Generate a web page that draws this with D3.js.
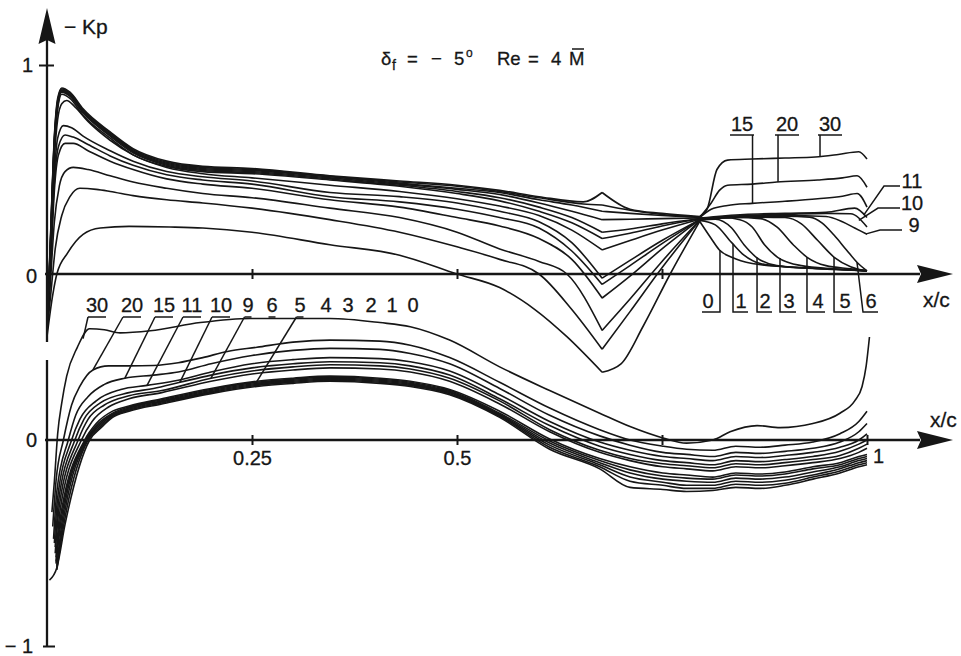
<!DOCTYPE html>
<html><head><meta charset="utf-8">
<script src="https://cdn.jsdelivr.net/npm/d3@7/dist/d3.min.js"></script>
<style>
html,body{margin:0;padding:0;background:#fff;}
svg{display:block;}
text{font-family:"Liberation Sans",Arial,Helvetica,sans-serif;fill:#161616;stroke:#161616;stroke-width:0.3px;}
</style></head><body>
<svg id="chart" width="961" height="656"></svg>
<script>
// ---------------- DATA (x/c , -Kp) ----------------
const angles = [0,1,2,3,4,5,6,9,10,11,15,20,30];

// upper panel (main wing + flap, upper side)
const up30 = [[0,-0.28],[0.004,0.15],[0.009,0.66],[0.013,0.84],[0.018,0.89],[0.028,0.87],[0.044,0.79],[0.077,0.68],[0.105,0.60],[0.146,0.54],[0.19,0.515],[0.25,0.505],[0.345,0.47],[0.43,0.445],[0.5,0.425],[0.552,0.40],[0.6,0.37],[0.654,0.345],[0.677,0.39],[0.711,0.31],[0.75,0.29],[0.796,0.275],[0.805,0.31],[0.817,0.50],[0.83,0.545],[0.86,0.55],[0.9,0.555],[0.937,0.56],[0.965,0.572],[0.99,0.585],[1.0,0.55]];
const up20 = [[0,-0.28],[0.004,0.14],[0.009,0.65],[0.013,0.83],[0.018,0.885],[0.028,0.865],[0.044,0.785],[0.077,0.675],[0.105,0.595],[0.146,0.535],[0.19,0.51],[0.25,0.50],[0.345,0.468],[0.43,0.44],[0.5,0.42],[0.552,0.395],[0.6,0.365],[0.654,0.335],[0.677,0.33],[0.711,0.305],[0.75,0.285],[0.796,0.272],[0.81,0.34],[0.82,0.40],[0.83,0.425],[0.86,0.43],[0.89,0.44],[0.94,0.45],[0.97,0.46],[0.988,0.47],[1.0,0.415]];
const up15 = [[0,-0.28],[0.004,0.13],[0.009,0.64],[0.013,0.82],[0.018,0.88],[0.028,0.86],[0.044,0.78],[0.077,0.67],[0.105,0.59],[0.146,0.53],[0.19,0.505],[0.25,0.495],[0.345,0.465],[0.43,0.435],[0.5,0.41],[0.552,0.39],[0.6,0.355],[0.64,0.33],[0.677,0.30],[0.711,0.29],[0.75,0.28],[0.796,0.27],[0.81,0.31],[0.83,0.328],[0.86,0.338],[0.9,0.348],[0.94,0.36],[0.97,0.372],[0.988,0.385],[1.0,0.32]];
const up11 = [[0,-0.28],[0.004,0.12],[0.009,0.63],[0.013,0.81],[0.018,0.875],[0.028,0.855],[0.044,0.775],[0.077,0.665],[0.105,0.585],[0.146,0.525],[0.19,0.50],[0.25,0.49],[0.345,0.46],[0.43,0.43],[0.5,0.405],[0.552,0.38],[0.6,0.34],[0.64,0.30],[0.677,0.26],[0.711,0.262],[0.75,0.265],[0.796,0.268],[0.85,0.285],[0.9,0.29],[0.95,0.295],[0.985,0.315],[1.0,0.27]];
const up10 = [[0,-0.28],[0.004,0.11],[0.009,0.62],[0.013,0.80],[0.018,0.87],[0.028,0.85],[0.044,0.77],[0.077,0.66],[0.105,0.58],[0.146,0.52],[0.19,0.495],[0.25,0.485],[0.345,0.455],[0.43,0.425],[0.5,0.395],[0.552,0.365],[0.6,0.32],[0.64,0.27],[0.677,0.20],[0.711,0.215],[0.75,0.24],[0.796,0.266],[0.85,0.28],[0.9,0.285],[0.95,0.29],[0.98,0.288],[1.0,0.225]];
const up9  = [[0,-0.28],[0.004,0.10],[0.009,0.60],[0.013,0.79],[0.018,0.86],[0.028,0.84],[0.044,0.76],[0.077,0.65],[0.105,0.57],[0.146,0.515],[0.19,0.49],[0.25,0.48],[0.345,0.45],[0.43,0.42],[0.5,0.385],[0.552,0.35],[0.6,0.30],[0.64,0.245],[0.677,0.17],[0.711,0.195],[0.75,0.23],[0.796,0.264],[0.85,0.277],[0.9,0.28],[0.95,0.275],[0.97,0.25],[0.985,0.22],[1.0,0.19]];
const up6  = [[0,-0.28],[0.004,0.08],[0.009,0.55],[0.013,0.74],[0.018,0.815],[0.024,0.83],[0.034,0.80],[0.05,0.73],[0.077,0.64],[0.105,0.57],[0.146,0.51],[0.19,0.48],[0.25,0.46],[0.345,0.425],[0.43,0.395],[0.5,0.36],[0.552,0.325],[0.6,0.28],[0.64,0.21],[0.677,0.115],[0.711,0.16],[0.75,0.21],[0.796,0.262],[0.85,0.274],[0.9,0.276],[0.93,0.272],[0.945,0.245],[0.96,0.185],[0.975,0.115],[0.988,0.055],[1.0,0.015]];
const up5  = [[0,-0.28],[0.004,0.05],[0.009,0.48],[0.013,0.65],[0.02,0.71],[0.03,0.70],[0.044,0.66],[0.077,0.59],[0.105,0.54],[0.146,0.49],[0.19,0.465],[0.25,0.445],[0.345,0.39],[0.43,0.37],[0.5,0.34],[0.552,0.30],[0.6,0.25],[0.64,0.15],[0.677,-0.02],[0.711,0.065],[0.75,0.16],[0.796,0.26],[0.85,0.272],[0.9,0.27],[0.92,0.24],[0.94,0.16],[0.96,0.08],[0.98,0.035],[1.0,0.015]];
const up4  = [[0,-0.28],[0.004,0.03],[0.009,0.44],[0.014,0.61],[0.022,0.665],[0.032,0.655],[0.05,0.62],[0.077,0.565],[0.105,0.52],[0.146,0.475],[0.19,0.45],[0.25,0.43],[0.345,0.37],[0.43,0.345],[0.5,0.31],[0.552,0.27],[0.6,0.22],[0.64,0.11],[0.677,-0.05],[0.711,0.04],[0.75,0.145],[0.796,0.26],[0.84,0.27],[0.87,0.265],[0.89,0.225],[0.91,0.14],[0.927,0.08],[0.95,0.04],[0.98,0.025],[1.0,0.015]];
const up3  = [[0,-0.28],[0.004,0.0],[0.009,0.40],[0.014,0.57],[0.022,0.625],[0.032,0.625],[0.05,0.59],[0.077,0.54],[0.105,0.50],[0.146,0.455],[0.19,0.43],[0.25,0.41],[0.345,0.355],[0.43,0.32],[0.5,0.27],[0.552,0.23],[0.6,0.17],[0.64,0.07],[0.677,-0.115],[0.711,-0.01],[0.75,0.12],[0.796,0.26],[0.825,0.27],[0.845,0.26],[0.86,0.225],[0.875,0.14],[0.891,0.08],[0.92,0.04],[0.96,0.025],[1.0,0.015]];
const up2  = [[0,-0.28],[0.004,-0.05],[0.009,0.25],[0.015,0.42],[0.022,0.49],[0.032,0.51],[0.05,0.50],[0.077,0.47],[0.105,0.44],[0.146,0.41],[0.19,0.385],[0.25,0.365],[0.345,0.315],[0.43,0.27],[0.5,0.2],[0.552,0.12],[0.6,0.06],[0.634,0.0],[0.677,-0.27],[0.711,-0.12],[0.75,0.06],[0.796,0.258],[0.815,0.262],[0.835,0.22],[0.85,0.14],[0.865,0.08],[0.89,0.04],[0.94,0.025],[1.0,0.015]];
const up1  = [[0,-0.28],[0.005,-0.08],[0.01,0.12],[0.018,0.28],[0.028,0.37],[0.04,0.41],[0.06,0.405],[0.077,0.395],[0.105,0.375],[0.146,0.355],[0.19,0.34],[0.25,0.315],[0.345,0.26],[0.43,0.20],[0.5,0.13],[0.552,0.07],[0.6,0.0],[0.64,-0.17],[0.677,-0.36],[0.711,-0.18],[0.75,0.03],[0.796,0.256],[0.815,0.235],[0.835,0.15],[0.85,0.09],[0.87,0.05],[0.9,0.035],[0.95,0.025],[1.0,0.015]];
const up0  = [[0,-0.30],[0.007,-0.1],[0.012,0.0],[0.025,0.10],[0.044,0.19],[0.065,0.22],[0.1,0.228],[0.15,0.225],[0.19,0.22],[0.25,0.20],[0.345,0.14],[0.43,0.09],[0.5,0.0],[0.552,-0.065],[0.595,-0.17],[0.634,-0.30],[0.677,-0.47],[0.70,-0.43],[0.727,-0.25],[0.76,0.0],[0.796,0.252],[0.81,0.17],[0.82,0.115],[0.835,0.08],[0.86,0.05],[0.9,0.035],[0.95,0.025],[1.0,0.015]];

// lower panel (lower side)
const lo30 = [[0.006,-0.35],[0.009,-0.2],[0.013,0.03],[0.018,0.18],[0.024,0.31],[0.037,0.45],[0.052,0.54],[0.07,0.535],[0.089,0.52],[0.126,0.53],[0.187,0.57],[0.248,0.59],[0.345,0.59],[0.406,0.57],[0.443,0.55],[0.491,0.485],[0.552,0.355],[0.613,0.24],[0.674,0.13],[0.711,0.065],[0.751,0.01],[0.78,-0.015],[0.812,0.0],[0.833,0.04],[0.866,0.07],[0.894,0.06],[0.934,0.08],[0.967,0.13],[0.985,0.19],[0.994,0.26],[0.999,0.36],[1.003,0.50]];
const lo20 = [[0.007,-0.42],[0.011,-0.2],[0.02,0.0],[0.03,0.17],[0.04,0.26],[0.056,0.34],[0.075,0.36],[0.1,0.36],[0.13,0.362],[0.16,0.375],[0.19,0.40],[0.22,0.43],[0.256,0.45],[0.3,0.475],[0.345,0.485],[0.406,0.48],[0.443,0.46],[0.491,0.40],[0.552,0.28],[0.613,0.155],[0.674,0.05],[0.711,0.0],[0.751,-0.03],[0.78,-0.045],[0.812,-0.05],[0.84,-0.03],[0.87,-0.035],[0.9,-0.025],[0.934,-0.01],[0.967,0.03],[0.99,0.09],[1.0,0.14]];
const lo15 = [[0.008,-0.48],[0.012,-0.25],[0.026,0.0],[0.035,0.12],[0.05,0.21],[0.07,0.27],[0.095,0.30],[0.13,0.315],[0.16,0.33],[0.2,0.37],[0.25,0.41],[0.3,0.435],[0.345,0.445],[0.406,0.44],[0.443,0.42],[0.491,0.37],[0.552,0.25],[0.613,0.12],[0.674,0.02],[0.711,-0.025],[0.751,-0.06],[0.78,-0.07],[0.812,-0.08],[0.84,-0.06],[0.87,-0.065],[0.9,-0.055],[0.934,-0.04],[0.967,-0.01],[0.99,0.04],[1.0,0.08]];
const lo11 = [[0.009,-0.5],[0.013,-0.28],[0.03,0.0],[0.04,0.1],[0.06,0.19],[0.09,0.245],[0.122,0.265],[0.16,0.29],[0.2,0.33],[0.25,0.37],[0.3,0.39],[0.345,0.40],[0.406,0.395],[0.443,0.38],[0.491,0.335],[0.552,0.22],[0.613,0.09],[0.674,-0.01],[0.711,-0.05],[0.751,-0.08],[0.78,-0.09],[0.812,-0.10],[0.84,-0.08],[0.87,-0.085],[0.9,-0.075],[0.934,-0.06],[0.967,-0.035],[0.99,0.0],[1.0,0.03]];
const lo10 = [[0.01,-0.52],[0.014,-0.3],[0.034,0.0],[0.045,0.1],[0.065,0.18],[0.1,0.23],[0.13,0.25],[0.162,0.28],[0.2,0.315],[0.25,0.35],[0.3,0.37],[0.345,0.38],[0.406,0.375],[0.443,0.36],[0.491,0.315],[0.552,0.20],[0.613,0.07],[0.674,-0.03],[0.711,-0.07],[0.751,-0.1],[0.78,-0.11],[0.812,-0.12],[0.84,-0.10],[0.87,-0.105],[0.9,-0.095],[0.934,-0.08],[0.967,-0.055],[0.99,-0.02],[1.0,0.0]];
const lo9  = [[0.01,-0.55],[0.015,-0.32],[0.038,0.0],[0.05,0.1],[0.07,0.17],[0.1,0.215],[0.14,0.24],[0.2,0.30],[0.25,0.335],[0.3,0.355],[0.345,0.365],[0.406,0.36],[0.443,0.345],[0.491,0.30],[0.552,0.19],[0.613,0.05],[0.674,-0.05],[0.711,-0.09],[0.751,-0.115],[0.78,-0.125],[0.812,-0.135],[0.84,-0.115],[0.87,-0.12],[0.9,-0.11],[0.934,-0.095],[0.967,-0.075],[0.99,-0.04],[1.0,-0.02]];
const lo6  = [[0.011,-0.57],[0.016,-0.34],[0.042,0.0],[0.055,0.09],[0.075,0.16],[0.1,0.2],[0.14,0.23],[0.2,0.285],[0.25,0.32],[0.3,0.34],[0.345,0.35],[0.406,0.345],[0.443,0.33],[0.491,0.285],[0.552,0.175],[0.613,0.04],[0.674,-0.06],[0.711,-0.10],[0.751,-0.13],[0.78,-0.14],[0.812,-0.15],[0.84,-0.13],[0.87,-0.135],[0.9,-0.125],[0.934,-0.11],[0.967,-0.09],[0.99,-0.06],[1.0,-0.04]];
const lo5  = [[0.011,-0.59],[0.017,-0.36],[0.046,0.0],[0.06,0.08],[0.08,0.14],[0.1,0.165],[0.14,0.2],[0.2,0.25],[0.256,0.285],[0.3,0.3],[0.345,0.31],[0.406,0.30],[0.443,0.285],[0.491,0.245],[0.552,0.14],[0.613,0.005],[0.674,-0.09],[0.711,-0.13],[0.751,-0.16],[0.78,-0.17],[0.812,-0.18],[0.84,-0.16],[0.87,-0.165],[0.9,-0.155],[0.934,-0.13],[0.967,-0.11],[0.99,-0.08],[1.0,-0.07]];
const lo4  = [[0.011,-0.6],[0.018,-0.37],[0.047,0.0],[0.06,0.07],[0.08,0.13],[0.1,0.16],[0.14,0.195],[0.2,0.245],[0.256,0.28],[0.3,0.295],[0.345,0.305],[0.406,0.295],[0.443,0.28],[0.491,0.24],[0.552,0.13],[0.613,-0.005],[0.674,-0.10],[0.711,-0.145],[0.751,-0.175],[0.78,-0.185],[0.812,-0.19],[0.84,-0.17],[0.87,-0.175],[0.9,-0.165],[0.934,-0.14],[0.967,-0.12],[0.99,-0.09],[1.0,-0.08]];
const lo3  = [[0.012,-0.61],[0.019,-0.38],[0.048,0.0],[0.062,0.07],[0.08,0.125],[0.1,0.155],[0.14,0.19],[0.2,0.24],[0.256,0.275],[0.3,0.29],[0.345,0.30],[0.406,0.29],[0.443,0.275],[0.491,0.235],[0.552,0.125],[0.613,-0.015],[0.674,-0.11],[0.711,-0.16],[0.751,-0.19],[0.78,-0.2],[0.812,-0.205],[0.84,-0.185],[0.87,-0.19],[0.9,-0.18],[0.934,-0.155],[0.967,-0.13],[0.99,-0.10],[1.0,-0.09]];
const lo2  = [[0.012,-0.62],[0.02,-0.39],[0.049,0.0],[0.063,0.065],[0.08,0.12],[0.1,0.15],[0.14,0.185],[0.2,0.235],[0.256,0.27],[0.3,0.285],[0.345,0.295],[0.406,0.285],[0.443,0.27],[0.491,0.23],[0.552,0.12],[0.613,-0.025],[0.674,-0.12],[0.711,-0.18],[0.751,-0.205],[0.78,-0.22],[0.812,-0.22],[0.84,-0.2],[0.87,-0.205],[0.9,-0.195],[0.934,-0.17],[0.967,-0.14],[0.99,-0.11],[1.0,-0.1]];
const lo1  = [[0.012,-0.63],[0.021,-0.40],[0.05,0.0],[0.064,0.06],[0.08,0.115],[0.1,0.145],[0.14,0.18],[0.2,0.23],[0.256,0.265],[0.3,0.28],[0.345,0.29],[0.406,0.28],[0.443,0.265],[0.491,0.225],[0.552,0.115],[0.613,-0.035],[0.674,-0.13],[0.711,-0.2],[0.751,-0.22],[0.78,-0.235],[0.812,-0.235],[0.84,-0.215],[0.87,-0.22],[0.9,-0.21],[0.934,-0.18],[0.967,-0.15],[0.99,-0.12],[1.0,-0.11]];
const lo0  = [[0.003,-0.68],[0.012,-0.62],[0.022,-0.41],[0.052,0.0],[0.066,0.06],[0.08,0.11],[0.1,0.14],[0.14,0.175],[0.2,0.225],[0.256,0.26],[0.3,0.275],[0.345,0.285],[0.406,0.275],[0.443,0.26],[0.491,0.22],[0.552,0.11],[0.613,-0.045],[0.674,-0.14],[0.711,-0.23],[0.751,-0.24],[0.78,-0.25],[0.812,-0.245],[0.84,-0.23],[0.87,-0.235],[0.9,-0.22],[0.934,-0.19],[0.967,-0.16],[0.99,-0.13],[1.0,-0.12]];

// axis ticks
const xTicksUpper = [0.25, 0.5, 0.75];
const xTicksLower = [0.25, 0.5, 0.75, 1];
const xTickLabels = {0.25:"0.25", 0.5:"0.5", 0.75:"", 1:"1"};
const yTicksUpper = [0, 1];
const yTicksLower = [0, -1];
const yTickLabels = {1:"1", 0:"0", "-1":"\u2212 1"};
const upperBreaks = [0.677, 0.796];   // sharp kinks (V trough, flap hinge)

// tables built from the arrays above
const upper = {0:up0,1:up1,2:up2,3:up3,4:up4,5:up5,6:up6,9:up9,10:up10,11:up11,15:up15,20:up20,30:up30};
const lower = {0:lo0,1:lo1,2:lo2,3:lo3,4:lo4,5:lo5,6:lo6,9:lo9,10:lo10,11:lo11,15:lo15,20:lo20,30:lo30};

// ---------------- DRAWING ----------------
const ink = "#161616";
const svg = d3.select("#chart");
const x  = d3.scaleLinear().domain([0,1]).range([47,867]);
const yU = d3.scaleLinear().domain([0,1]).range([274,65]);
const yL = d3.scaleLinear().domain([-1,0]).range([646,440]);

function valueAt(pts, xv){
  for(let i=1;i<pts.length;i++){
    if(pts[i][0]>=xv){const a=pts[i-1],b=pts[i];const t=(xv-a[0])/(b[0]-a[0]);return a[1]+t*(b[1]-a[1]);}
  }
  return pts[pts.length-1][1];
}
function splitPath(pts, yS, breaks){
  const gen = d3.line().x(d=>x(d[0])).y(d=>yS(d[1])).curve(d3.curveMonotoneX);
  const segs=[]; let cur=[];
  pts.forEach(p=>{cur.push(p); if(breaks.includes(p[0]) && cur.length>1){segs.push(cur); cur=[p];}});
  if(cur.length>1) segs.push(cur);
  return segs.map(s=>gen(s)).join("");
}

// curves
const gCurves = svg.append("g").attr("fill","none").attr("stroke",ink).attr("stroke-width",1.6).attr("stroke-linejoin","round");
angles.forEach(a=>{
  gCurves.append("path").attr("d", splitPath(upper[a], yU, upperBreaks));
  gCurves.append("path").attr("d", splitPath(lower[a], yL, []));
});

// axes
const gAx = svg.append("g").attr("stroke",ink).attr("stroke-width",2.3).attr("fill","none");
gAx.append("line").attr("x1",x(0)).attr("x2",x(0)).attr("y1",40).attr("y2",342);
gAx.append("line").attr("x1",x(0)).attr("x2",x(0)).attr("y1",360).attr("y2",yL(-1));
gAx.append("line").attr("x1",x(0)-2).attr("x2",920).attr("y1",yU(0)).attr("y2",yU(0));
gAx.append("line").attr("x1",x(0)-2).attr("x2",920).attr("y1",yL(0)).attr("y2",yL(0));
const gArr = svg.append("g").attr("fill",ink);
gArr.append("path").attr("d",`M${x(0)},8 L${x(0)+8.5},44 L${x(0)},40 L${x(0)-8.5},44 Z`);
[yU(0), yL(0)].forEach(yy=>gArr.append("path").attr("d",`M953,${yy} L917,${yy-9} L921,${yy} L917,${yy+9} Z`));

// x axes (ticks)
const axU = svg.append("g").attr("transform",`translate(0,${yU(0)})`)
  .call(d3.axisBottom(x).tickValues(xTicksUpper).tickSize(5).tickFormat(""));
axU.select(".domain").remove();
axU.selectAll(".tick line").attr("y1",-5).attr("stroke",ink).attr("stroke-width",2);

const axL = svg.append("g").attr("transform",`translate(0,${yL(0)})`)
  .call(d3.axisBottom(x).tickValues(xTicksLower).tickSize(5).tickPadding(6).tickFormat(d=>xTickLabels[d]));
axL.select(".domain").remove();
axL.attr("font-size",20);
axL.selectAll(".tick line").attr("y1",-5).attr("stroke",ink).attr("stroke-width",2);
axL.selectAll(".tick text").filter(d=>d===1).attr("dx",11).attr("dy","0.6em");

// y axes
const ayU = svg.append("g").attr("transform",`translate(${x(0)},0)`)
  .call(d3.axisLeft(yU).tickValues(yTicksUpper).tickSize(8).tickPadding(6).tickFormat(d=>yTickLabels[d]));
ayU.select(".domain").remove();
ayU.attr("font-size",20);
ayU.selectAll(".tick line").attr("x1",d=>d===1?7:0).attr("x2",d=>d===1?-8:0).attr("stroke",ink).attr("stroke-width",2);
ayU.selectAll(".tick text").filter(d=>d===0).attr("dx",4).attr("dy","0.42em");

const ayL = svg.append("g").attr("transform",`translate(${x(0)},0)`)
  .call(d3.axisLeft(yL).tickValues(yTicksLower).tickSize(8).tickPadding(6).tickFormat(d=>yTickLabels[d]));
ayL.select(".domain").remove();
ayL.attr("font-size",20);
ayL.selectAll(".tick line").attr("x1",d=>d===-1?8:0).attr("x2",d=>d===-1?-4:0).attr("stroke",ink).attr("stroke-width",2);
ayL.selectAll(".tick text").filter(d=>d===0).attr("dx",4);

// axis titles
svg.append("text").attr("x",64).attr("y",34).attr("font-size",21).text("\u2212 Kp");
svg.append("text").attr("x",923).attr("y",307).attr("font-size",21).text("x/c");
svg.append("text").attr("x",930).attr("y",427).attr("font-size",21).text("x/c");

// title  δf = −5°  Re = 4 M̄
const tG = svg.append("g").attr("font-size",18.5);
tG.append("text").attr("x",381).attr("y",65).text("\u03b4");
tG.append("text").attr("x",392).attr("y",70).attr("font-size",14).text("f");
tG.append("text").attr("x",407).attr("y",65).text("=");
tG.append("text").attr("x",431).attr("y",65).text("\u2212");
tG.append("text").attr("x",454).attr("y",65).text("5");
tG.append("text").attr("x",466).attr("y",57).attr("font-size",12).text("o");
tG.append("text").attr("x",497).attr("y",65).text("Re");
tG.append("text").attr("x",528).attr("y",65).text("=");
tG.append("text").attr("x",551).attr("y",65).text("4");
tG.append("text").attr("x",569).attr("y",65).text("M");
svg.append("line").attr("x1",572).attr("x2",584).attr("y1",49).attr("y2",49).attr("stroke",ink).attr("stroke-width",1.5);

// ---------- labels & leaders ----------
const gL = svg.append("g").attr("stroke",ink).attr("stroke-width",1.5).attr("fill","none");
const gT = svg.append("g").attr("font-size",20).attr("text-anchor","middle");

// upper flap: 15, 20, 30 (above)
[{a:15,cx:742,lx:0.8604},{a:20,cx:787,lx:0.8915},{a:30,cx:830,lx:0.9427}].forEach(o=>{
  gT.append("text").attr("x",o.cx).attr("y",131).text(o.a);
  const px=x(o.lx);
  gL.append("line").attr("x1",Math.min(o.cx-12,px)).attr("x2",Math.max(o.cx+12,px)).attr("y1",135).attr("y2",135);
  gL.append("line").attr("x1",px).attr("x2",px).attr("y1",135).attr("y2",yU(valueAt(upper[o.a],o.lx)));
});
// upper flap: 11, 10, 9 (right)
[{a:11,tx:912,ty:188,hx:884,lx:0.996},{a:10,tx:912,ty:210,hx:878,lx:0.99},{a:9,tx:914,ty:232,hx:880,lx:0.999}].forEach(o=>{
  gT.append("text").attr("x",o.tx).attr("y",o.ty).text(o.a);
  gL.append("path").attr("d",`M${o.tx-12},${o.ty-2} L${o.hx},${o.ty-2} L${x(o.lx)},${yU(valueAt(upper[o.a],o.lx))}`);
});
// upper flap: 0..6 (below axis, bracket leaders)
[{a:0,tx:708,lx:0.8207,side:-1},{a:1,tx:741,lx:0.8366,side:1},{a:2,tx:765,lx:0.8659,side:1},{a:3,tx:789,lx:0.8939,side:1},
 {a:4,tx:818,lx:0.9268,side:1},{a:5,tx:845,lx:0.9598,side:1},{a:6,tx:871,lx:0.9878,side:1,bx:863}].forEach(o=>{
  gT.append("text").attr("x",o.tx).attr("y",308).text(o.a);
  const px=x(o.lx), bx=o.bx||px, py=yU(valueAt(upper[o.a],o.lx));
  const ex = o.side<0 ? o.tx-6 : o.tx+7;
  gL.append("path").attr("d",`M${px},${py} L${bx},312 L${ex},312`);
});
// lower panel labels 30 … 0
[{a:30,cx:97,lx:0.044},{a:20,cx:132,lx:0.056},{a:15,cx:164,lx:0.095},{a:11,cx:192,lx:0.122},{a:10,cx:221,lx:0.162},
 {a:9,cx:248,lx:0.2},{a:6,cx:272,lx:null},{a:5,cx:300,lx:0.256},{a:4,cx:326,lx:null},{a:3,cx:348,lx:null},
 {a:2,cx:371,lx:null},{a:1,cx:392,lx:null},{a:0,cx:413,lx:null}].forEach(o=>{
  gT.append("text").attr("x",o.cx).attr("y",312).text(o.a);
  const w = String(o.a).length*11;
  if(o.a===6 || o.lx!==null){
    gL.append("line").attr("x1",o.cx-w/2+2).attr("x2",o.cx+w/2-2).attr("y1",317).attr("y2",317);
  }
  if(o.lx!==null){
    gL.append("line").attr("x1",o.cx-w/2+2).attr("y1",317).attr("x2",x(o.lx)).attr("y2",yL(valueAt(lower[o.a],o.lx)));
  }
});
</script>
</body></html>
